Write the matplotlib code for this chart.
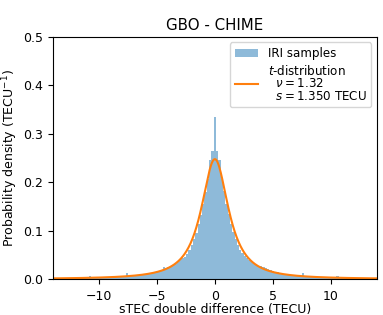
import math
import numpy as np
import matplotlib
matplotlib.use("Agg")
import matplotlib.pyplot as plt

# 히스토그램 데이터 (bin 폭 0.2 TECU, 중심 -14.0 ~ 14.0) ---------------
BIN_WIDTH = 0.2

# x = -14.0 ... -1.2 (한 줄 = 1 TECU)
dens_neg = [0.0018, 0.0017, 0.0018, 0.0019, 0.0020,   # -14.0
            0.0020, 0.0021, 0.0020, 0.0022, 0.0023,   # -13.0
            0.0024, 0.0025, 0.0024, 0.0026, 0.0028,   # -12.0
            0.0030, 0.0070, 0.0031, 0.0033, 0.0034,   # -11.0
            0.0035, 0.0037, 0.0039, 0.0040, 0.0042,   # -10.0
            0.0044, 0.0046, 0.0048, 0.0050, 0.0052,   # -9.0
            0.0055, 0.0058, 0.0130, 0.0063, 0.0070,   # -8.0
            0.0075, 0.0080, 0.0086, 0.0092, 0.0098,   # -7.0
            0.0105, 0.0112, 0.0120, 0.0128, 0.0138,   # -6.0
            0.0150, 0.0162, 0.0175, 0.0240, 0.0225,   # -5.0
            0.0250, 0.0275, 0.0295, 0.0320, 0.0350,   # -4.0
            0.0385, 0.0430, 0.0465, 0.0520, 0.0600,   # -3.0
            0.0700, 0.0820, 0.0960, 0.1130, 0.1330]   # -2.0
# x = -1.0 ... 1.0
dens_mid = [0.1550, 0.1800, 0.2060, 0.2460, 0.2650, 0.3350,
            0.2650, 0.2460, 0.2070, 0.1810, 0.1560]
# x = 1.2 ... 14.0
dens_pos = [0.1340, 0.1140, 0.0970, 0.0830,           # 1.2
            0.0710, 0.0610, 0.0530, 0.0470, 0.0430,   # 2.0
            0.0390, 0.0360, 0.0330, 0.0300, 0.0280,   # 3.0
            0.0260, 0.0240, 0.0230, 0.0200, 0.0180,   # 4.0
            0.0170, 0.0150, 0.0140, 0.0130, 0.0120,   # 5.0
            0.0110, 0.0108, 0.0100, 0.0092, 0.0088,   # 6.0
            0.0080, 0.0078, 0.0072, 0.0130, 0.0068,   # 7.0
            0.0062, 0.0060, 0.0057, 0.0052, 0.0050,   # 8.0
            0.0048, 0.0046, 0.0044, 0.0041, 0.0040,   # 9.0
            0.0039, 0.0036, 0.0035, 0.0065, 0.0034,   # 10.0
            0.0031, 0.0030, 0.0029, 0.0030, 0.0027,   # 11.0
            0.0026, 0.0025, 0.0024, 0.0025, 0.0022,   # 12.0
            0.0021, 0.0020, 0.0021, 0.0019, 0.0018,   # 13.0
            0.0017]                                   # 14.0
density = np.array(dens_neg + dens_mid + dens_pos)
bin_centers = (np.arange(len(density)) - len(dens_neg) - 5) * BIN_WIDTH

# t-분포 파라미터 (범례 값)
NU = 1.32
S_TECU = 1.350


def t_pdf(x, nu, s):
    c = math.gamma((nu + 1) / 2) / (math.sqrt(nu * math.pi) * math.gamma(nu / 2)) / s
    return c * (1 + (x / s) ** 2 / nu) ** (-(nu + 1) / 2)


# ----------------------------------------------------
# 그래프
# ----------------------------------------------------
plt.rcParams["font.size"] = 9

fig = plt.figure(figsize=(3.83, 3.15), dpi=100)
ax = fig.add_axes([0.138, 0.114, 0.846, 0.769])

bars = ax.bar(bin_centers, density, width=BIN_WIDTH, color="tab:blue",
              alpha=0.5, linewidth=0, label="IRI samples")

xs = np.linspace(-14, 14, 1001)
line, = ax.plot(xs, t_pdf(xs, NU, S_TECU), color="tab:orange", lw=1.5,
                label="$t$-distribution\n  $\\nu = 1.32$\n  $s = 1.350$ TECU")

ax.set_xlim(-14, 14)
ax.set_ylim(0, 0.5)
ax.set_xticks([-10, -5, 0, 5, 10])
ax.set_yticks([0.0, 0.1, 0.2, 0.3, 0.4, 0.5])
ax.tick_params(axis="x", pad=4)
ax.set_title("GBO - CHIME", pad=5)
ax.set_xlabel("sTEC double difference (TECU)", labelpad=0.5)
ax.set_ylabel("Probability density (TECU$^{-1}$)", labelpad=2)
leg = ax.legend(handles=[bars, line], loc="upper right", fontsize=8.6,
                labelspacing=0.3, borderaxespad=0.45)
leg.get_texts()[1].set_linespacing(0.95)

fig.savefig("out.png", dpi=100)
